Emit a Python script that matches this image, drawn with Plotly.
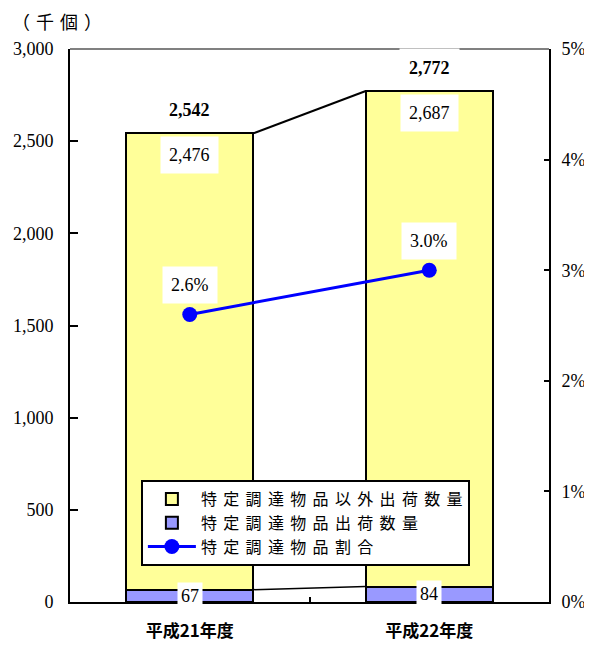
import plotly.graph_objects as go

categories = ["平成21年度", "平成22年度"]
specific = [67, 84]            # 特定調達物品出荷数量 (千個)
other = [2476, 2687]           # 特定調達物品以外出荷数量 (千個)
totals = [2542, 2772]          # 合計
share = [2.6, 3.0]             # 特定調達物品割合 (%)
y_ticks = [0, 500, 1000, 1500, 2000, 2500, 3000]
y2_ticks = [0, 1, 2, 3, 4, 5]
legend_names = ["特定調達物品以外出荷数量", "特定調達物品出荷数量", "特定調達物品割合"]
unit_label = "（千個）"

SERIF = "Liberation Serif"
CJK = "Noto Sans CJK JP"
BW = 0.53
SP = "\u2004\u200a"
xs = list(range(len(categories)))


def spaced(s, sep=SP):
    return sep.join(s)


fig = go.Figure()

fig.add_trace(go.Bar(
    x=xs, y=specific, width=BW, name=spaced(legend_names[1]),
    marker=dict(color="#9999FF", line=dict(color="black", width=2)),
    legendrank=2, hoverinfo="skip",
))
fig.add_trace(go.Bar(
    x=xs, y=other, width=BW, name=spaced(legend_names[0]),
    marker=dict(color="#FFFF99", line=dict(color="black", width=2)),
    legendrank=1, hoverinfo="skip",
))

# series connector lines between bars
fig.add_trace(go.Scatter(
    x=[xs[0] + BW / 2, xs[1] - BW / 2], y=totals, mode="lines",
    line=dict(color="black", width=2), showlegend=False, hoverinfo="skip",
))
fig.add_trace(go.Scatter(
    x=[xs[0] + BW / 2, xs[1] - BW / 2], y=specific, mode="lines",
    line=dict(color="black", width=1.5), showlegend=False, hoverinfo="skip",
))

fig.add_trace(go.Scatter(
    x=xs, y=share, yaxis="y2", mode="lines+markers", name=spaced(legend_names[2]),
    line=dict(color="#0000FF", width=3),
    marker=dict(color="#0000FF", size=15),
    legendrank=3, hoverinfo="skip",
))

annotations = []
for i in xs:
    annotations.append(dict(
        x=i, y=totals[i], xref="x", yref="y", yanchor="top", yshift=-3,
        text=f"{other[i]:,}", showarrow=False, bgcolor="white", borderpad=8,
        font=dict(family=SERIF, size=18, color="black"),
    ))
    annotations.append(dict(
        x=i, y=totals[i], xref="x", yref="y", yanchor="bottom", yshift=3,
        text=f"<b>{totals[i]:,}</b>", showarrow=False, bgcolor="white", borderpad=9,
        font=dict(family=SERIF, size=18, color="black"),
    ))
    annotations.append(dict(
        x=i, y=specific[i] / 2, xref="x", yref="y", yanchor="middle",
        text=f"{specific[i]:,}", showarrow=False, bgcolor="white", borderpad=3,
        font=dict(family=SERIF, size=18, color="black"),
    ))
    annotations.append(dict(
        x=i, y=share[i], xref="x", yref="y2", yanchor="bottom", yshift=10,
        text=f"{share[i]:.1f}%", showarrow=False, bgcolor="white", borderpad=8,
        font=dict(family=SERIF, size=18, color="black"),
    ))

annotations.append(dict(
    x=-0.125, y=1.0, xref="paper", yref="paper", xanchor="left", yanchor="bottom",
    yshift=13, text=spaced(unit_label, "\u2004"), showarrow=False,
    font=dict(family=CJK, size=18, color="black"),
))

fig.update_layout(
    width=584, height=637,
    margin=dict(l=62, r=43, t=41, b=43, autoexpand=False),
    plot_bgcolor="white", paper_bgcolor="white",
    barmode="stack",
    showlegend=True,
    legend=dict(
        x=0.148, y=0.2206, xanchor="left", yanchor="top",
        bgcolor="white", bordercolor="black", borderwidth=2,
        font=dict(family=CJK, size=16, color="black"),
        tracegroupgap=0, itemwidth=48, traceorder="normal",
    ),
    xaxis=dict(
        range=[-0.5, 1.5], tickvals=xs,
        ticktext=[f"<b>{c}</b>" for c in categories],
        ticks="", showline=True, linecolor="black", linewidth=2,
        showgrid=False, zeroline=False, automargin=False,
        tickfont=dict(family=CJK, size=17, color="black"),
        ticklabelstandoff=13,
        minor=dict(tickvals=[0.5], ticks="inside", ticklen=5, tickwidth=2, tickcolor="black"),
    ),
    yaxis=dict(
        range=[0, 3000], tickvals=y_ticks, tickformat=",",
        ticks="inside", ticklen=8, tickwidth=2, tickcolor="black",
        showline=True, linecolor="black", linewidth=2,
        showgrid=False, zeroline=False, automargin=False,
        tickfont=dict(family=SERIF, size=18, color="black"),
        ticklabelstandoff=11,
    ),
    yaxis2=dict(
        range=[0, 5], tickvals=y2_ticks, ticktext=[f"{v}%" for v in y2_ticks],
        overlaying="y", side="right",
        ticks="inside", ticklen=5, tickwidth=2, tickcolor="black",
        showline=True, linecolor="black", linewidth=2,
        showgrid=False, zeroline=False, automargin=False,
        tickfont=dict(family=SERIF, size=18, color="black"),
        ticklabelstandoff=7,
    ),
    shapes=[dict(
        type="line", xref="paper", yref="paper", x0=0, x1=1, y0=1, y1=1,
        line=dict(color="#808080", width=2), layer="below",
    )],
    annotations=annotations,
)

fig.write_html("out.html")
